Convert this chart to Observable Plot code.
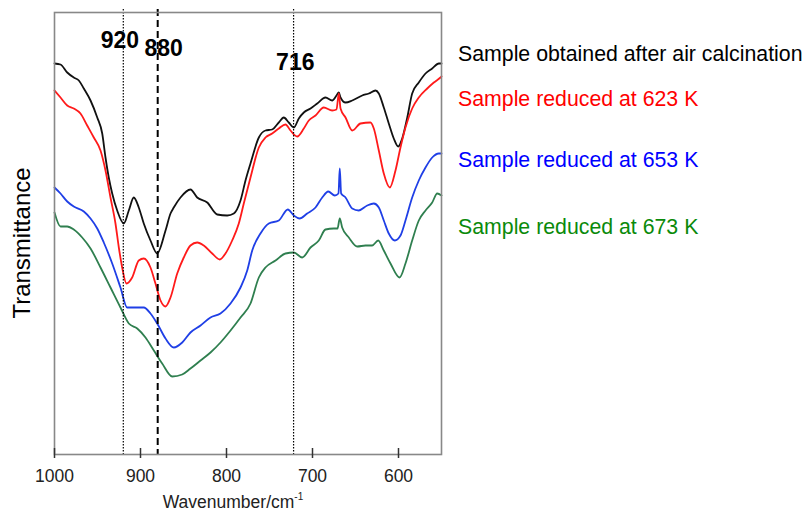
<!DOCTYPE html>
<html>
<head>
<meta charset="utf-8">
<script src="https://cdn.jsdelivr.net/npm/d3@7"></script>
<script src="https://cdn.jsdelivr.net/npm/@observablehq/plot@0.6"></script>
<style>
  html, body { margin: 0; padding: 0; background: #fff; }
  #wrap { position: relative; width: 809px; height: 512px; font-family: "Liberation Sans", Arial, sans-serif; overflow: hidden; }
  .ov { position: absolute; white-space: nowrap; line-height: 1; }
  sup { font-size: 10px; vertical-align: 8px; line-height: 0; }
</style>
</head>
<body>
<div id="wrap"></div>
<script>
// ---- data (transmittance in arbitrary units) ----
const seriesNames = [
  "Sample obtained after air calcination",
  "Sample reduced at 623 K",
  "Sample reduced at 653 K",
  "Sample reduced at 673 K"
];
const lineColors = ["#111111", "#ff1a1a", "#1f3fe6", "#2f7f4f"];
const textColors = ["#000000", "#ff0000", "#0000ff", "#0a8a0a"];

const airW = [1000,993,985.2,977.6,971.7,965.9,958.1,950.3,944.5,940.7,936.9,932.9,927.1,919.4,913.6,907.8,902,896.2,888.4,880.6,870.9,865.1,861.3,853.5,841.9,834.1,822.4,810.8,799.2,791.5,783.7,777.9,772.1,762.4,754.7,746.9,739.2,733.4,727.6,721.7,715.9,710.1,702.3,694.5,684.9,677.1,672.1,669.4,667.4,661.6,653.8,642.2,634.5,626.7,622.9,617.1,611.3,605.5,600.3,595.7,589.8,584.1,576.4,568.6,560.8,553.1,550];
const airT = [391,390,382,377,374,366,354,337,321,297,277,261,244,231,244,257,247,231,214,201,224,241,247,257,265,257,252,240,239,241,254,274,291,317,324,325,332,337,332,327,336,342,346,351,357,354,359,362,357,352,354,359,361,364,361,347,331,316,308,316,337,361,372,381,386,391,391];

const r623W = [1000,993,985.2,977.6,969.8,962,954.3,946.5,940.7,934.9,929.1,925.2,921.3,916.3,909.7,902,896.2,888.4,882.6,876.7,870.9,865.1,857.3,849.7,841.9,834.1,826.4,816.6,807.8,801.2,793.4,785.7,779.9,772.1,762.4,754.7,746.9,739.2,731.4,725.6,717.8,710.1,704.3,696.5,686.9,677.1,672.1,669.4,667.4,661.6,653.8,644.2,632.6,628.7,622.9,617.1,610.1,603.5,597.7,591.9,584.1,576.4,566.6,558.9,551.2,550];
const r623T = [364,357,349,346,341,329,317,304,284,257,231,207,187,171,177,194,196,187,171,154,148,157,181,197,209,212,209,201,195,201,214,231,251,277,307,317,321,326,330,324,318,326,334,339,347,344,345,361,346,337,324,331,332,326,304,281,267,284,307,327,346,357,366,372,377,378];

const r653W = [1000,993,985.2,977.6,965.9,958.1,950.3,942.7,932.9,923.3,915.5,905.8,896.2,888.4,880.6,870.9,861.3,851.5,841.9,830.2,818.6,807,795.3,783.7,775.9,770.1,760.5,750.8,739.2,728.7,721.7,715.1,706.2,696.5,688.7,681.7,674.1,669.8,668.3,666.7,661.6,653.8,646.2,636.4,628.7,622.9,617.1,611.3,604.3,597.7,591.9,584.1,576.4,568.6,560.8,553.1,550];
const r653T = [267,261,253,248,243,236,226,212,191,167,147,147,147,141,131,116,107,112,122,129,137,141,151,167,184,204,221,231,234,245,239,236,241,247,257,263,259,261,286,261,257,246,244,249,251,247,234,221,214,219,234,257,274,287,297,301,301];

const r673W = [1000,993,985.2,977.6,967.8,958.1,946.5,934.9,923.3,913.6,903.8,894.2,884.5,874.8,863.1,851.5,841.9,830.2,818.6,807,795.3,783.7,772.1,762.4,754.7,743,731.4,721.7,712,702.3,692.7,684.9,675.2,670.9,668.3,665.5,657.8,648,638.4,630.6,623.6,617.1,609.3,598.8,591.9,584.1,576.4,568.6,560.8,555,550];
const r673T = [242,228,228,225,217,206,187,167,147,131,126,117,104,91,78,80,86,94,102,112,124,137,151,177,187,194,201,202,197,207,214,225,226,226,236,227,217,208,209,209,214,204,191,177,191,214,234,244,252,261,259];

const xTicks = [1000, 900, 800, 700, 600];
const refLineW = [920, 880, 722];
const refLineStyle = ["dotted", "dashed", "dotted"];
const peakLabelText = ["920", "880", "716"];
const peakLabelW = [924, 873, 720];
const peakLabelT = [407, 399, 385];

// ---- build table ----
const seriesW = [airW, r623W, r653W, r673W];
const seriesT = [airT, r623T, r653T, r673T];
const rows = [];
seriesNames.forEach((name, i) => {
  seriesW[i].forEach((w, j) => rows.push({series: name, w, t: seriesT[i][j]}));
});
const refs = refLineW.map((w, i) => ({w, style: refLineStyle[i]}));
const peaks = peakLabelText.map((text, i) => ({text, w: peakLabelW[i], t: peakLabelT[i]}));

const chart = Plot.plot({
  width: 809,
  height: 512,
  marginLeft: 54,
  marginRight: 368,
  marginTop: 12,
  marginBottom: 58,
  style: {fontFamily: "'Liberation Sans', Arial, sans-serif", background: "transparent", overflow: "visible"},
  x: {domain: [1000, 550]},
  y: {domain: [0, 442], axis: null},
  color: {domain: seriesNames, range: lineColors},
  marks: [
    Plot.line(rows, {x: "w", y: "t", z: "series", stroke: "series", strokeWidth: 1.8, curve: "monotone-x"}),
    Plot.ruleX(refs.filter(d => d.style === "dotted"), {x: "w", stroke: "#000", strokeWidth: 1.2, strokeDasharray: "1.5,1.5", insetTop: -3}),
    Plot.ruleX(refs.filter(d => d.style === "dashed"), {x: "w", stroke: "#000", strokeWidth: 2, strokeDasharray: "7,4", insetTop: -3}),
    Plot.frame({stroke: "#888", strokeWidth: 1.6}),
    Plot.ruleX(xTicks, {x: d => d, stroke: "#333", strokeWidth: 1.5, insetTop: 436}),
    Plot.axisX(xTicks, {tickSize: 4, tickPadding: 11, fontSize: 17.5, fill: "#222", stroke: "#333", strokeWidth: 1.5, label: null, tickFormat: d => String(d)}),
    Plot.text(peaks, {x: "w", y: "t", text: "text", fontSize: 23, fontWeight: "bold", fill: "#000", textAnchor: "middle", lineAnchor: "bottom"})
  ]
});

const wrap = document.getElementById("wrap");
wrap.appendChild(chart);

// legend
const legendBaselines = [62, 107, 168, 235];
seriesNames.forEach((name, i) => {
  const s = document.createElement("div");
  s.className = "ov";
  s.textContent = name;
  s.style.left = "458px";
  s.style.fontSize = "21.3px";
  s.style.top = (legendBaselines[i] - 18) + "px";
  s.style.color = textColors[i];
  wrap.appendChild(s);
});

// axis titles
const xl = document.createElement("div");
xl.className = "ov";
xl.innerHTML = "Wavenumber/cm<sup>-1</sup>";
xl.style.fontSize = "17.5px";
xl.style.color = "#222";
xl.style.left = "233px";
xl.style.top = "494px";
xl.style.transform = "translateX(-50%)";
wrap.appendChild(xl);

const yl = document.createElement("div");
yl.className = "ov";
yl.textContent = "Transmittance";
yl.style.fontSize = "24px";
yl.style.color = "#000";
yl.style.left = "22px";
yl.style.top = "243px";
yl.style.transform = "translate(-50%, -50%) rotate(-90deg)";
wrap.appendChild(yl);
</script>
</body>
</html>
